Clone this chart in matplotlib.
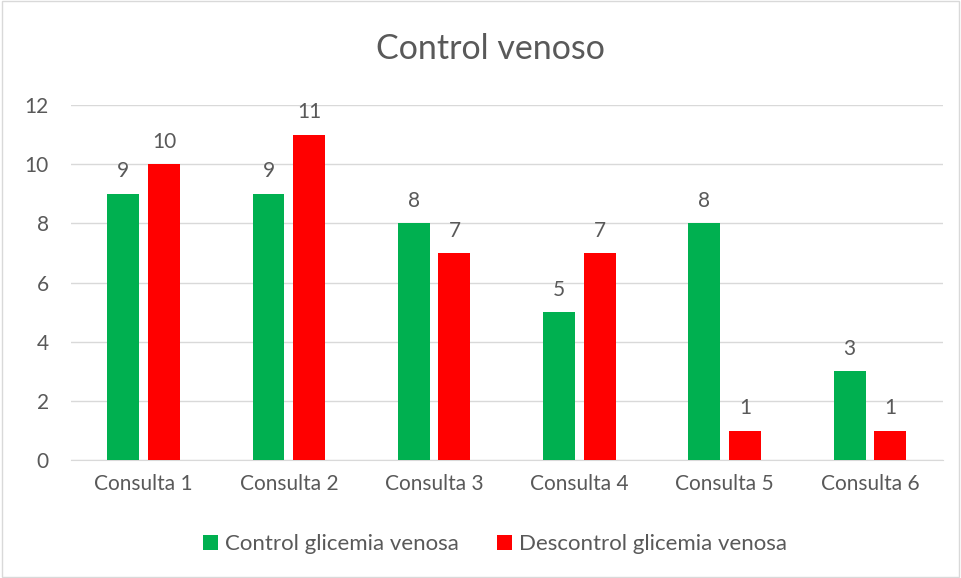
import numpy as np
import matplotlib.pyplot as plt
from matplotlib.patches import Rectangle

# Datos de las consultas
consultas = ["Consulta 1", "Consulta 2", "Consulta 3", "Consulta 4", "Consulta 5", "Consulta 6"]
control = [9, 9, 8, 5, 8, 3]
descontrol = [10, 11, 7, 7, 1, 1]

verde = "#00B050"
rojo = "#FF0000"
gris_texto = "#595959"

plt.rcParams["font.family"] = ["Lato", "DejaVu Sans"]

fig = plt.figure(figsize=(9.61, 5.78), dpi=100)
ax = fig.add_axes([0.0738, 0.204, 0.907, 0.614])

x = np.arange(len(consultas))
ancho = 0.22
sep = 0.03

b1 = ax.bar(x - ancho / 2 - sep, control, ancho, color=verde, label="Control glicemia venosa", zorder=3)
b2 = ax.bar(x + ancho / 2 + sep, descontrol, ancho, color=rojo, label="Descontrol glicemia venosa", zorder=3)

# Etiquetas con el valor encima de cada barra
for barras in (b1, b2):
    ax.bar_label(barras, padding=9, fontsize=15, color=gris_texto)

ax.set_xlim(-0.5, len(consultas) - 0.5)
ax.set_ylim(0, 12)
ax.set_yticks(range(0, 13, 2))
ax.grid(axis="y", color="#D9D9D9", linewidth=1, zorder=0)
ax.set_xticks(x)
ax.set_xticklabels(consultas)
ax.tick_params(axis="both", length=0, labelsize=15, colors=gris_texto)
ax.tick_params(axis="x", pad=10)
ax.tick_params(axis="y", pad=16)
for lado in ("top", "right", "left"):
    ax.spines[lado].set_visible(False)
ax.spines["bottom"].set_color("#D9D9D9")

fig.text(0.51, 0.915, "Control venoso", ha="center", va="center", fontsize=24.5, color=gris_texto)

fig.legend(loc="center", bbox_to_anchor=(0.515, 0.058), ncol=2, frameon=False,
           fontsize=16, labelcolor=gris_texto, handlelength=0.7, handleheight=0.7,
           handletextpad=0.3, columnspacing=1.7)

# Marco del gráfico
fig.patches.append(Rectangle((0.002, 0.002), 0.996, 0.996, transform=fig.transFigure,
                             fill=False, edgecolor="#D9D9D9", linewidth=1))

fig.savefig("out.png", dpi=100)
